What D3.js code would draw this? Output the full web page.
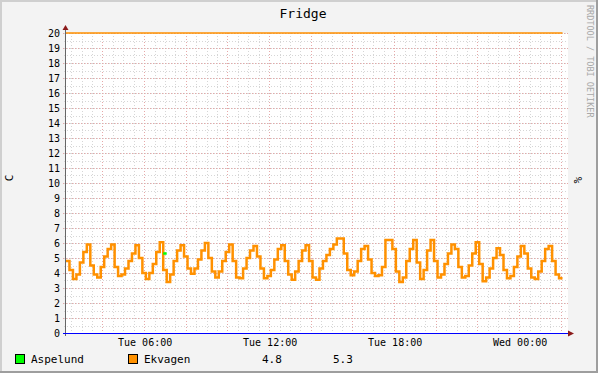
<!DOCTYPE html>
<html>
<meta charset="utf-8">
<style>
  body { margin: 0; background: #f3f3f3; }
  svg text { font-family: "DejaVu Sans Mono", monospace; }
</style>
<body>
<div id="chart"></div>
<script src="https://d3js.org/d3.v7.min.js"></script>
<script>

// data, 10 minute samples starting Tue 02:15
var startTime = new Date(2024, 0, 2, 2, 15)
var stepMinutes = 10
var ekvagen = [
  4.8, 4.2, 3.6, 3.9, 4.7, 5.4, 5.9, 4.5, 3.9, 3.7,
  4.4, 5.1, 5.6, 5.9, 4.4, 3.8, 3.9, 4.3, 4.8, 5.3,
  5.85, 5.0, 4.0, 3.6, 4.0, 4.6, 5.4, 6.05, 4.2, 3.4,
  3.9, 4.8, 5.5, 5.85, 5.1, 4.3, 3.95, 4.3, 4.9, 5.5,
  6.0, 5.0, 4.1, 3.7, 4.1, 4.8, 5.4, 5.9, 4.8, 3.7,
  3.65, 4.3, 5.0, 5.5, 5.8, 5.1, 4.3, 3.65, 3.8, 4.2,
  4.9, 5.6, 5.85, 4.8, 3.9, 3.55, 4.1, 4.8, 5.5, 5.85,
  4.8, 3.7, 3.55, 4.3, 4.8, 5.2, 5.6, 5.9, 6.3, 6.3,
  5.3, 4.2, 3.85, 4.1, 4.8, 5.6, 5.8, 4.9, 4.0, 3.8,
  3.85, 4.4, 6.2, 6.2, 5.6, 4.1, 3.4, 3.7, 4.8, 5.6,
  6.2, 4.7, 3.6, 4.2, 5.5, 6.2, 4.8, 3.7, 3.9, 4.6,
  5.3, 5.9, 5.6, 4.4, 3.7, 3.8, 4.5, 5.3, 6.05, 4.6,
  3.45, 3.7, 4.3, 5.0, 5.65, 5.2, 4.2, 3.65, 3.8, 4.4,
  5.1, 5.8, 5.3, 4.3, 3.7, 3.6, 4.1, 4.8, 5.6, 5.8,
  4.8, 3.9, 3.65
]
var aspelundSlots = [28]
var aspelundValues = [5.3]
var topLine = 20

var legendNames = ["Aspelund", "Ekvagen"]
var legendColors = ["#00ff00", "#ff9100"]
var legendValues = ["4.8", "5.3"]

var W = 598, H = 373
var pLeft = 66, pRight = 566, pTop = 33, pBottom = 333

var svg = d3.select("#chart").append("svg")
    .attr("width", W)
    .attr("height", H)

// background + 3d border
svg.append("rect").attr("width", W).attr("height", H).attr("fill", "#f3f3f3")
svg.append("path").attr("d", "M0," + H + "V0H" + W).attr("stroke", "#cfcfcf").attr("stroke-width", 4).attr("fill", "none")
svg.append("path").attr("d", "M0," + H + "H" + W + "V0").attr("stroke", "#9e9e9e").attr("stroke-width", 4).attr("fill", "none")

var t = function(i) { return d3.timeMinute.offset(startTime, i * stepMinutes) }

var x = d3.scaleTime()
    .domain([startTime, d3.timeHour.offset(startTime, 24)])
    .range([pLeft, pRight])
var y = d3.scaleLinear()
    .domain([0, 20])
    .range([pBottom, pTop])

svg.append("rect")
    .attr("x", pLeft).attr("y", pTop)
    .attr("width", pRight - pLeft + 2).attr("height", pBottom - pTop)
    .attr("fill", "#ffffff")

// grid
var grid = svg.append("g").attr("shape-rendering", "crispEdges")
x.ticks(d3.timeMinute.every(30)).forEach(function(d) {
  grid.append("line").attr("x1", Math.round(x(d)) + 0.5).attr("x2", Math.round(x(d)) + 0.5)
    .attr("y1", pTop).attr("y2", pBottom + 2)
    .attr("stroke", "#d6d6d6").attr("stroke-dasharray", "1,2")
})
d3.range(0, 20.01, 0.5).forEach(function(v) {
  grid.append("line").attr("y1", Math.round(y(v)) + 0.5).attr("y2", Math.round(y(v)) + 0.5)
    .attr("x1", pLeft - 2).attr("x2", pRight + 2)
    .attr("stroke", "#d6d6d6").attr("stroke-dasharray", "1,2")
})
x.ticks(d3.timeHour.every(2)).forEach(function(d) {
  grid.append("line").attr("x1", Math.round(x(d)) + 0.5).attr("x2", Math.round(x(d)) + 0.5)
    .attr("y1", pTop).attr("y2", pBottom + 3)
    .attr("stroke", "#e6a8a8").attr("stroke-dasharray", "1,2")
})
d3.range(0, 21).forEach(function(v) {
  grid.append("line").attr("y1", Math.round(y(v)) + 0.5).attr("y2", Math.round(y(v)) + 0.5)
    .attr("x1", pLeft - 3).attr("x2", pRight + 2)
    .attr("stroke", "#e6a8a8").attr("stroke-dasharray", "1,2")
})

// y labels
svg.append("g").selectAll("text")
  .data(d3.range(0, 21))
  .enter().append("text")
    .attr("x", pLeft - 6)
    .attr("y", function(d) { return y(d) + 4 })
    .attr("text-anchor", "end")
    .attr("font-size", "10px")
    .text(function(d) { return d })

// x labels
svg.append("g").selectAll("text")
  .data(x.ticks(d3.timeHour.every(6)))
  .enter().append("text")
    .attr("x", function(d) { return x(d) + 1 })
    .attr("y", pBottom + 13)
    .attr("text-anchor", "middle")
    .attr("font-size", "10px")
    .text(d3.timeFormat("%a %H:%M"))

// data lines
var pts = ekvagen.map(function(v, i) { return {t: t(i), v: v} })
pts.push({t: t(ekvagen.length), v: ekvagen[ekvagen.length - 1]})

svg.append("line")
    .attr("x1", pLeft).attr("x2", x(t(ekvagen.length)))
    .attr("y1", y(topLine)).attr("y2", y(topLine))
    .attr("stroke", legendColors[1]).attr("stroke-width", 1.5)

svg.append("path")
    .datum(pts)
    .attr("fill", "none")
    .attr("stroke", legendColors[1])
    .attr("stroke-width", 2.5)
    .attr("d", d3.line()
      .x(function(d) { return x(d.t) })
      .y(function(d) { return y(d.v) })
      .curve(d3.curveStepAfter))

aspelundSlots.forEach(function(s, k) {
  svg.append("line")
    .attr("x1", x(t(s))).attr("x2", x(t(s + 1)))
    .attr("y1", y(aspelundValues[k])).attr("y2", y(aspelundValues[k]))
    .attr("stroke", legendColors[0]).attr("stroke-width", 2.5)
})

// axes
svg.append("line").attr("x1", pLeft - 0.5).attr("x2", pLeft - 0.5)
    .attr("y1", pBottom + 3).attr("y2", pTop - 4)
    .attr("stroke", "#666").attr("stroke-width", 1)
svg.append("line").attr("x1", pLeft - 3).attr("x2", pRight + 2)
    .attr("y1", pBottom + 0.5).attr("y2", pBottom + 0.5)
    .attr("stroke", "#0000ff").attr("stroke-width", 1)
svg.append("path").attr("d", "M" + (pLeft - 3.5) + "," + (pTop - 3) + "L" + (pLeft - 0.5) + "," + (pTop - 8) + "L" + (pLeft + 2.5) + "," + (pTop - 3) + "Z")
    .attr("fill", "#8b1a1a")
svg.append("path").attr("d", "M" + (pRight + 2) + "," + (pBottom - 2.5) + "L" + (pRight + 8) + "," + (pBottom + 0.5) + "L" + (pRight + 2) + "," + (pBottom + 3.5) + "Z")
    .attr("fill", "#8b1a1a")

// titles
svg.append("text").attr("x", 303).attr("y", 18).attr("text-anchor", "middle")
    .attr("font-size", "13px").text("Fridge")
svg.append("text").attr("transform", "translate(13,178) rotate(-90)")
    .attr("text-anchor", "middle").attr("font-size", "11px").text("C")
svg.append("text").attr("transform", "translate(574,180) rotate(90)")
    .attr("text-anchor", "middle").attr("font-size", "11px").text("%")
svg.append("text").attr("transform", "translate(587,5) rotate(90)")
    .attr("font-size", "8.5px").attr("fill", "#a8a8a8").text("RRDTOOL / TOBI OETIKER")

// legend
var legX = [15, 128]
legendNames.forEach(function(n, i) {
  svg.append("rect").attr("x", legX[i] + 0.5).attr("y", 354.5).attr("width", 9).attr("height", 9)
    .attr("fill", legendColors[i]).attr("stroke", "#000")
  svg.append("text").attr("x", legX[i] + 16).attr("y", 363).attr("font-size", "11px").text(n)
})
var valX = [262, 333]
legendValues.forEach(function(v, i) {
  svg.append("text").attr("x", valX[i]).attr("y", 363).attr("font-size", "11px").text(v)
})
</script>
</body>
</html>
